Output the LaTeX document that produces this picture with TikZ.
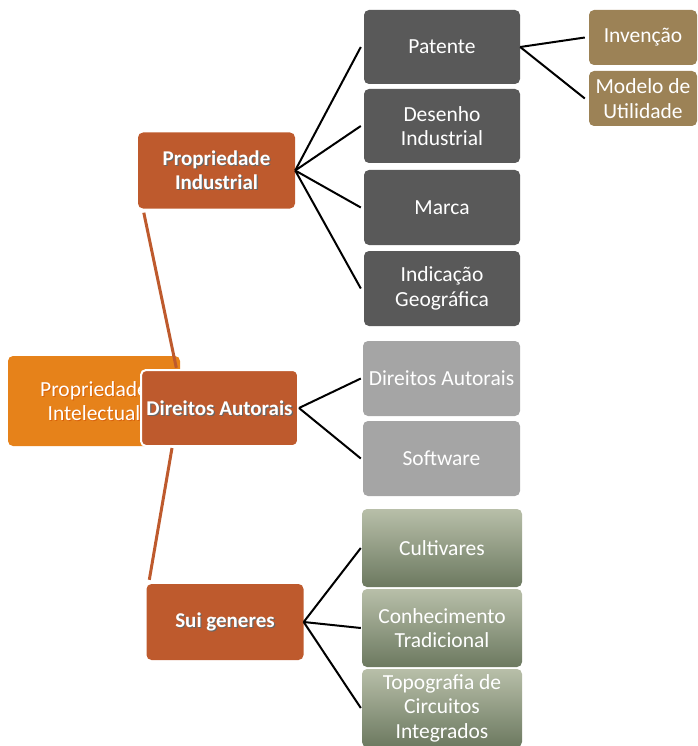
\documentclass[tikz,border=0pt]{standalone}
\usepackage{fontspec}
\setmainfont{Carlito}
\usetikzlibrary{calc}

\definecolor{orangeA}{HTML}{E6821A}
\definecolor{rust}{HTML}{BE5A2D}
\definecolor{darkgray}{HTML}{595959}
\definecolor{lightgray}{HTML}{A5A5A5}
\definecolor{tan}{HTML}{9C8256}
\definecolor{sagetop}{HTML}{B8BFA9}
\definecolor{sagebot}{HTML}{6C7960}
\definecolor{glow}{HTML}{D9620A}

\tikzset{
  x=1pt, y=-1pt,
  box/.style={rounded corners=5pt, align=center, text=white,
    font=\fontsize{21.5}{24.5}\selectfont, inner sep=1pt},
  topbox/.style={box, fill=orangeA, minimum width=172pt, minimum height=90pt},
  catbox/.style={box, fill=rust, minimum width=157pt, minimum height=76pt},
  shadowtxt/.style={align=center, text=black!60, inner sep=0pt,
    font=\bfseries\fontsize{21}{24}\selectfont},
  plaintxt/.style={align=center, text=white, inner sep=0pt,
    font=\bfseries\fontsize{21}{24}\selectfont},
  darkbox/.style={box, fill=darkgray, minimum width=156pt, minimum height=74pt},
  greybox/.style={box, fill=lightgray, minimum width=157pt, minimum height=75pt},
  sagebox/.style={box, top color=sagetop, bottom color=sagebot,
    minimum width=160pt, minimum height=78pt},
  tanbox/.style={box, fill=tan, minimum width=108pt, minimum height=55pt},
  link/.style={draw=black, line width=2pt},
  trunk/.style={draw=rust, line width=3pt},
}

\begin{document}
\begin{tikzpicture}
\useasboundingbox (0,0) rectangle (697,746);

% root
\node[topbox] (pint) at (94,401) {};
\node[text=glow, font=\fontsize{21.5}{24.5}\selectfont, align=center, inner sep=0pt] (pintglow) at (95,402) {Propriedade\\Intelectual};
\node[text=white, font=\fontsize{21.5}{24.5}\selectfont, align=center, inner sep=0pt] (pinttxt) at (94,401) {Propriedade\\Intelectual};

% first level
\node[catbox] (pind) at (216.5,170.5) {};
\node[catbox] (sg) at (225,622) {};

% trunk lines
\draw[trunk] ($(pind.south west)+(6,4)$) -- ($(sg.north west)+(30,-216)$);

\node[catbox, draw=white, line width=2pt] (da) at (219.5,408) {};
\draw[trunk] ($(da.south west)+(32,1)$) -- ($(sg.north west)+(3,-4)$);

% bold labels with shadow
\node[shadowtxt] (pindsh) at ($(pind)+(1.2,1.2)$) {Propriedade\\Industrial};
\node[plaintxt] (pindtx) at (pind) {Propriedade\\Industrial};
\node[shadowtxt] (dash) at ($(da)+(1.2,1.2)$) {Direitos Autorais};
\node[plaintxt] (datx) at (da) {Direitos Autorais};
\node[shadowtxt] (sgsh) at ($(sg)+(1.2,1.2)$) {Sui generes};
\node[plaintxt] (sgtx) at (sg) {Sui generes};

% industrial property
\node[darkbox] (pat) at (442,47) {Patente};
\node[darkbox] (des) at (442,126) {Desenho\\Industrial};
\node[darkbox, minimum height=75pt] (mar) at (442,207.5) {Marca};
\node[darkbox, minimum height=75pt] (ind) at (442,288.5) {Indicação\\Geográfica};

% copyright
\node[greybox] (dal) at (441.5,378.5) {Direitos Autorais};
\node[greybox] (sw) at (441.5,458.5) {Software};

% sui generis
\node[sagebox] (cul) at (442,548) {Cultivares};
\node[sagebox] (con) at (442,628) {Conhecimento\\Tradicional};
\node[sagebox] (topo) at (442,708) {Topografia de\\Circuitos\\Integrados};

% patents
\node[tanbox] (inv) at (643,37.5) {Invenção};
\node[tanbox] (mod) at (643,98.5) {Modelo de\\Utilidade};

% connectors
\foreach \c in {pat,des,mar,ind}
  \draw[link] (pind.east) -- ($(\c.west)+(-3,0)$);
\foreach \c in {dal,sw}
  \draw[link] (da.east) -- ($(\c.west)+(-2,0)$);
\foreach \c in {cul,con,topo}
  \draw[link] (sg.east) -- ($(\c.west)+(-1,0)$);
\foreach \c in {inv,mod}
  \draw[link] (pat.east) -- ($(\c.west)+(-4,0)$);
\end{tikzpicture}
\end{document}
